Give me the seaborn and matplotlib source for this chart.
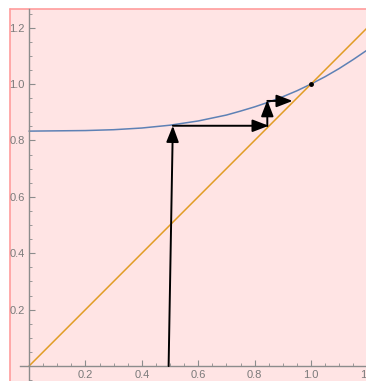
import numpy as np
import pandas as pd
import matplotlib
matplotlib.use('Agg')
import matplotlib.pyplot as plt
import seaborn as sns
from matplotlib.patches import Rectangle
from matplotlib.ticker import FixedLocator

sns.set_style('white')
plt.rcParams['font.family'] = ['Liberation Sans', 'DejaVu Sans']

# curve
curve_x = [0.0, 0.1, 0.2, 0.3, 0.4, 0.5, 0.6, 0.7, 0.75, 0.8, 0.85, 0.9, 0.95, 1.0, 1.05, 1.1, 1.15, 1.2]
curve_y = [0.833, 0.834, 0.835, 0.838, 0.844, 0.854, 0.869, 0.890, 0.904, 0.919, 0.936, 0.955, 0.976, 1.000, 1.026, 1.055, 1.087, 1.121]

# diagonal y = x
diag_x = [0.0, 1.2]
diag_y = [0.0, 1.2]

# cobweb arrows (start x, start y, end x, end y)
arrow_x0 = [0.495, 0.510, 0.845, 0.845]
arrow_y0 = [0.0, 0.852, 0.851, 0.940]
arrow_x1 = [0.510, 0.850, 0.845, 0.935]
arrow_y1 = [0.852, 0.852, 0.943, 0.940]

fixed_pt = (1.0, 1.0)

major_ticks = [0.2, 0.4, 0.6, 0.8, 1.0, 1.2]
minor_ticks = [-0.05, 0.05, 0.1, 0.15, 0.25, 0.3, 0.35, 0.45, 0.5, 0.55, 0.65, 0.7, 0.75,
               0.85, 0.9, 0.95, 1.05, 1.1, 1.15, 1.25]

PINK = '#ffe4e4'
BORDER = '#ff9c9c'
BLUE = '#5e81b5'
ORANGE = '#e19c24'
GREY = '#8c8c8c'
LABEL = '#7a7a7a'

W, H = 366, 381
fig = plt.figure(figsize=(W / 100, H / 100), dpi=100, facecolor='white')

# pink panel with light red frame at left/top (drawn below the axes)
fig.patches.append(Rectangle((9.5 / W, 0), 1, (H - 8.5) / H, transform=fig.transFigure,
                             facecolor=PINK, edgecolor='none', zorder=-2))
fig.lines.append(plt.Line2D([9.5 / W, 9.5 / W], [0, (H - 8.5) / H], transform=fig.transFigure,
                            color=BORDER, lw=1.2, zorder=-1))
fig.lines.append(plt.Line2D([9.5 / W, 1], [(H - 8.5) / H, (H - 8.5) / H], transform=fig.transFigure,
                            color=BORDER, lw=1.2, zorder=-1))

ax = fig.add_axes([20 / W, 0, (W - 20) / W, (H - 9) / H])
ax.patch.set_alpha(0)

sns.lineplot(x=curve_x, y=curve_y, ax=ax, color=BLUE, lw=1.1, sort=False)
sns.lineplot(x=diag_x, y=diag_y, ax=ax, color=ORANGE, lw=1.1, sort=False)

for x0, y0, x1, y1 in zip(arrow_x0, arrow_y0, arrow_x1, arrow_y1):
    ax.annotate('', xy=(x1, y1), xytext=(x0, y0),
                arrowprops=dict(arrowstyle='-|>,head_length=0.65,head_width=0.25', color='black',
                                lw=1.4, mutation_scale=15, shrinkA=0, shrinkB=0))
ax.plot([fixed_pt[0]], [fixed_pt[1]], 'o', color='black', ms=2.5)

ax.set_xlim(-0.032, 1.195)
ax.set_ylim(-0.053, 1.266)

for s in ['top', 'right']:
    ax.spines[s].set_visible(False)
for s in ['left', 'bottom']:
    ax.spines[s].set_position(('data', 0))
    ax.spines[s].set_color(GREY)
    ax.spines[s].set_linewidth(1.0)

ax.xaxis.set_major_locator(FixedLocator(major_ticks))
ax.yaxis.set_major_locator(FixedLocator(major_ticks))
ax.xaxis.set_minor_locator(FixedLocator(minor_ticks))
ax.yaxis.set_minor_locator(FixedLocator(minor_ticks))
ax.set_xticklabels([f'{t:.1f}' for t in major_ticks])
ax.set_yticklabels([f'{t:.1f}' for t in major_ticks])
ax.tick_params(which='major', direction='in', length=4, width=0.8, color=GREY,
               labelsize=8, labelcolor=LABEL, pad=3)
ax.tick_params(which='minor', direction='in', length=2.5, width=0.6, color=GREY)
ax.tick_params(axis='x', which='both', bottom=True)
ax.tick_params(axis='y', which='both', left=True)
ax.set_xlabel('')
ax.set_ylabel('')

# last x tick label sits past the plot range and is cut by the image edge, as in the original
ax.text(major_ticks[-1], -0.014, f'{major_ticks[-1]:.1f}', ha='center', va='top',
        fontsize=8, color=LABEL, clip_on=False)

fig.savefig('out.png', dpi=100, facecolor='white')
